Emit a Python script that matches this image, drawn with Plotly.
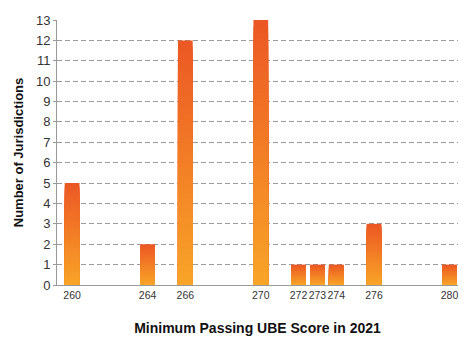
import plotly.graph_objects as go

scores = [260, 264, 266, 270, 272, 273, 274, 276, 280]
counts = [5, 2, 12, 13, 1, 1, 1, 3, 1]
y_ticks = list(range(0, 14))

top_rgb = (236, 88, 36)
bottom_rgb = (248, 164, 40)
N = 40

fig = go.Figure()
for k in range(N):
    frac = (N - k) / N
    t = k / (N - 1)
    r = round(top_rgb[0] + (bottom_rgb[0] - top_rgb[0]) * t)
    g = round(top_rgb[1] + (bottom_rgb[1] - top_rgb[1]) * t)
    b = round(top_rgb[2] + (bottom_rgb[2] - top_rgb[2]) * t)
    fig.add_trace(go.Bar(
        x=scores, y=[c * frac for c in counts],
        width=0.78, marker=dict(color=f"rgb({r},{g},{b})", line=dict(width=0)),
        showlegend=False, hoverinfo="skip",
    ))

fig.update_layout(
    barmode="overlay",
    width=466, height=352,
    margin=dict(l=49, r=16, t=12, b=75, autoexpand=False),
    plot_bgcolor="white", paper_bgcolor="white",
    font=dict(family="Liberation Sans, Arial, sans-serif", size=13, color="#333"),
    xaxis=dict(
        range=[259.2, 280.45], tickmode="array", tickvals=scores,
        ticktext=[str(s) for s in scores], showgrid=False, zeroline=False,
        showline=True, linecolor="#999", linewidth=1, ticks="",
        tickangle=0, automargin=False,
        tickfont=dict(size=10.5, color="#333"),
        title=dict(text="<b>Minimum Passing UBE Score in 2021</b>",
                   font=dict(size=14, color="#111"), standoff=23),
    ),
    yaxis=dict(
        range=[0, 13], tickmode="array", tickvals=y_ticks,
        showgrid=True, gridcolor="#999", griddash="5px,3px", gridwidth=1,
        zeroline=False, showline=True, linecolor="#999", linewidth=1,
        ticks="outside", ticklen=3, tickcolor="#999", automargin=False,
        tickfont=dict(size=13, color="#333"),
        title=dict(text="<b>Number of Jurisdictions</b>",
                   font=dict(size=13, color="#111"), standoff=9),
    ),
)

fig.write_html("out.html")
